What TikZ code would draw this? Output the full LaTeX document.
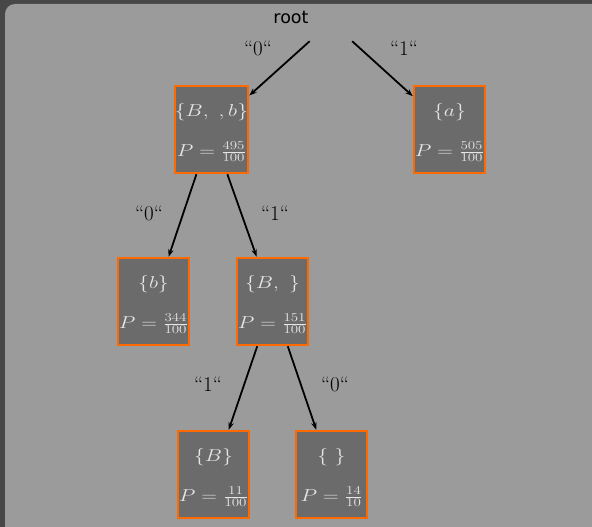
\documentclass[tikz,border=0pt]{standalone}
\usepackage{fontspec}
\usepackage{graphicx}
\newfontfamily\rootfont{DejaVu Sans}
\usetikzlibrary{arrows.meta}

\definecolor{bgdark}{HTML}{474747}
\definecolor{panelgray}{HTML}{9B9B9B}
\definecolor{nodefill}{HTML}{6B6B6B}
\definecolor{nodeorange}{HTML}{FF6A00}
\definecolor{nodetext}{HTML}{E6E6E6}

% wide math set inside the tree boxes
\newcommand{\widemath}[1]{\scalebox{1.25}[1]{$#1$}}
% first line of a box, with a strut that lowers the text block a little
\newcommand{\setline}[1]{\rule{0pt}{19pt}\widemath{#1}}
% bit labels on the branches
\newcommand{\bit}[1]{``#1``}

\begin{document}
\begin{tikzpicture}[x=1pt,y=-1pt,
  setbox/.style={draw=nodeorange, line width=2.5pt, fill=nodefill,
    minimum width=71pt, minimum height=87pt, inner sep=0pt,
    text=nodetext, align=center, font=\fontsize{17}{40}\selectfont},
  bitlabel/.style={inner sep=0pt, font=\fontsize{21}{24}\selectfont},
  branch/.style={line width=1.8pt, -{Stealth[length=7.5pt,width=5.5pt]}}]

  % canvas
  \useasboundingbox (0,0) rectangle (592,527);
  \clip (0,0) rectangle (592,527);
  \fill[bgdark] (0,0) rectangle (592,527);
  \fill[panelgray, rounded corners=10pt] (5,4) rectangle (620,560);

  % root
  \node[inner sep=0pt, font=\rootfont\fontsize{17.5}{20}\selectfont] (root) at (291,17) {root};
  \node[inner sep=0pt, minimum width=60pt, minimum height=38pt] (fork) at (331,22) {};

  % tree nodes
  \node[setbox] (Bb)   at (211.5,129.5) {\setline{\{B,\ ,b\}}\\ \widemath{P=\frac{495}{100}}};
  \node[setbox] (a)    at (449.5,129.5) {\setline{\{a\}}\\ \widemath{P=\frac{505}{100}}};
  \node[setbox] (b)    at (153.5,301.5) {\setline{\{b\}}\\ \widemath{P=\frac{344}{100}}};
  \node[setbox] (Bc)   at (272.5,301.5) {\setline{\{B,\ \}}\\ \widemath{P=\frac{151}{100}}};
  \node[setbox] (B)    at (213.5,474.5) {\setline{\{B\}}\\ \widemath{P=\frac{11}{100}}};
  \node[setbox] (none) at (331.5,474.5) {\setline{\{\ \}}\\ \widemath{P=\frac{14}{10}}};

  % branches
  \draw[branch] (fork) -- (Bb);
  \draw[branch] (fork) -- (a);
  \draw[branch] (Bb) -- (b);
  \draw[branch] (Bb) -- (Bc);
  \draw[branch] (Bc) -- (B);
  \draw[branch] (Bc) -- (none);

  % branch bits
  \node[bitlabel] (l1) at (258,48)  {\bit{0}};
  \node[bitlabel] (l2) at (404,48)  {\bit{1}};
  \node[bitlabel] (l3) at (149,213) {\bit{0}};
  \node[bitlabel] (l4) at (275,213) {\bit{1}};
  \node[bitlabel] (l5) at (208,384) {\bit{1}};
  \node[bitlabel] (l6) at (335,384) {\bit{0}};
\end{tikzpicture}
\end{document}
